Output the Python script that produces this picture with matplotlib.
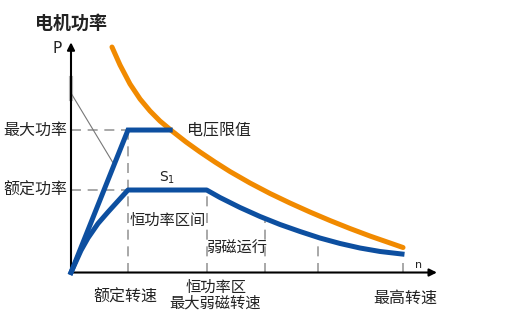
import numpy as np
import matplotlib
matplotlib.use("Agg")
import matplotlib.pyplot as plt

plt.rcParams["font.family"] = ["Noto Sans CJK SC", "DejaVu Sans"]

# per-unit speed (rated speed = 1) and per-unit power (rated power = 1)
n_rated = 1.0
n_weak_max = 2.38
n_top = 5.82
p_rated = 1.0
p_max = 1.727

# voltage limit curve (orange)
volt_n = [0.719, 0.860, 1.035, 1.211, 1.386, 1.561, 1.772, 2.018, 2.263, 2.526,
          2.789, 3.140, 3.491, 3.842, 4.193, 4.544, 4.895, 5.246, 5.596, 5.825]
volt_p = [2.733, 2.515, 2.285, 2.103, 1.958, 1.836, 1.715, 1.582, 1.461, 1.339,
          1.224, 1.085, 0.958, 0.842, 0.733, 0.630, 0.533, 0.442, 0.358, 0.303]

# max power curve (upper blue)
maxp_n = [0.0, n_rated, 1.74]
maxp_p = [0.0, p_max, p_max]

# rated power curve (lower blue)
rated_n = [0.0, 0.175, 0.298, 0.474, 0.649, 0.825, n_rated, n_weak_max,
           2.614, 2.965, 3.316, 3.667, 4.018, 4.368, 4.719, 5.070, 5.421, 5.807]
rated_p = [0.0, 0.267, 0.418, 0.594, 0.733, 0.867, p_rated, p_rated,
           0.909, 0.788, 0.679, 0.582, 0.497, 0.418, 0.352, 0.297, 0.255, 0.224]

# thin gray slope line
slope_n = [0.0, 0.742]
slope_p = [2.175, 1.324]

# dashed speed markers: (speed, top of dash)
marks_n = [n_rated, n_weak_max, 3.40, 4.33, n_top]
marks_top = [p_max, p_rated, 0.63, 0.39, 0.13]

blue = "#0d4fa0"
orange = "#f18a00"
grey = "#9a9a9a"
txt = "#222222"

fig = plt.figure(figsize=(5.16, 3.32), dpi=100)
ax = fig.add_axes([0, 0, 1, 1])
ax.set_xlim(-1.2456, 7.807)
ax.set_ylim(-0.721, 3.303)
ax.axis("off")

# dashed guides
for n, top in zip(marks_n, marks_top):
    ax.plot([n, n], [0, top], color=grey, lw=1.2, ls=(0, (6, 4)), zorder=1)
for p in [p_max, p_rated]:
    ax.plot([0, n_rated], [p, p], color=grey, lw=1.2, ls=(0, (6, 4)), zorder=1)

# axes with arrows
ax.plot([0, 0], [2.10, 2.36], color="#bbbbbb", lw=3, zorder=2)
ax.annotate("", xy=(0, 2.79), xytext=(0, 0),
            arrowprops=dict(arrowstyle="-|>", lw=1.5, color="black",
                            mutation_scale=11, shrinkA=0, shrinkB=0), zorder=3)
ax.annotate("", xy=(6.42, 0), xytext=(0, 0),
            arrowprops=dict(arrowstyle="-|>", lw=1.5, color="black",
                            mutation_scale=11, shrinkA=0, shrinkB=0), zorder=3)

ax.plot(slope_n, slope_p, color="#777777", lw=0.8, zorder=2)

ax.plot(volt_n, volt_p, color=orange, lw=3.6, solid_capstyle="round",
        solid_joinstyle="round", zorder=4)
ax.plot(maxp_n, maxp_p, color=blue, lw=3.6, solid_joinstyle="miter", zorder=5)
ax.plot(rated_n, rated_p, color=blue, lw=3.6, solid_joinstyle="round", zorder=5)

# labels
ax.text(0, 3.02, "电机功率", ha="center", va="center", fontsize=13,
        fontweight="bold", color=txt)
ax.text(-0.246, 2.72, "P", ha="center", va="center", fontsize=11, color=txt,
        family="DejaVu Sans")
ax.text(-0.07, p_max, "最大功率", ha="right", va="center", fontsize=11.5, color=txt)
ax.text(-0.07, p_rated, "额定功率", ha="right", va="center", fontsize=11.5, color=txt)
ax.text(2.035, p_max, "电压限值", ha="left", va="center", fontsize=11.5, color=txt)
ax.text(1.68, 1.145, "S$_1$", ha="center", va="center", fontsize=10, color=txt,
        family="DejaVu Sans")
ax.text(1.035, 0.636, "恒功率区间", ha="left", va="center", fontsize=11, color=txt)
ax.text(2.37, 0.297, "弱磁运行", ha="left", va="center", fontsize=11, color=txt)
ax.text(6.1, 0.09, "n", ha="center", va="center", fontsize=8, color=txt,
        family="DejaVu Sans")
ax.text(0.95, -0.297, "额定转速", ha="center", va="center", fontsize=11.5, color=txt)
ax.text(2.54, -0.176, "恒功率区", ha="center", va="center", fontsize=11, color=txt)
ax.text(2.52, -0.37, "最大弱磁转速", ha="center", va="center", fontsize=11, color=txt)
ax.text(5.86, -0.309, "最高转速", ha="center", va="center", fontsize=11.5, color=txt)

fig.savefig("out.png", dpi=100, facecolor="white")
